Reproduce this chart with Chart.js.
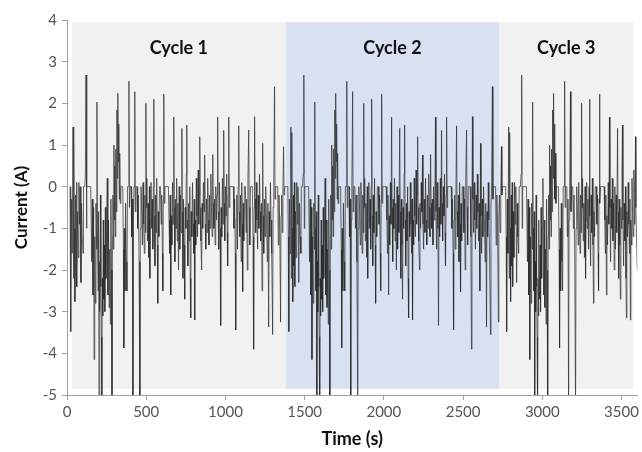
<!DOCTYPE html>
<html>
<head>
<meta charset="utf-8">
<script src="https://cdn.jsdelivr.net/npm/chart.js@4"></script>
<style>
  html, body { margin: 0; padding: 0; background: #fff; }
  #wrap { width: 642px; height: 452px; }
</style>
</head>
<body>
<div id="wrap"><canvas id="myChart"></canvas></div>
<script>
// one drive cycle, time (s) and current (A)
const cycleTime = [
  19, 22, 25, 29, 33, 38, 41, 44, 47, 50, 54, 57, 60, 63, 67, 71, 75, 79, 83, 88, 92, 96, 101, 104, 112, 116, 120, 123, 126,
  150, 156, 160, 164, 168, 171, 175, 179, 183, 187, 189, 192,
  196, 199, 202, 205, 208, 211, 214, 217, 220, 223, 226, 229, 232, 236, 239, 242, 246, 250, 254, 258, 262, 266, 270, 274, 277, 280, 284, 287, 290,
  293, 296, 299, 302, 305, 308, 312, 315, 318, 321, 324, 327, 330, 333, 336, 340, 352,
  356, 359, 362, 366, 370, 374, 378, 382, 388, 391, 394, 398, 405, 408, 412, 416, 419, 423, 428, 431, 435, 442, 446, 450, 455, 460, 463, 467,
  472, 476, 480, 484, 488, 492, 495, 498, 501, 504, 508, 512, 516, 520, 523, 526, 530, 534, 538, 542, 545, 548, 551, 555, 558, 562, 566, 570, 573, 576, 580, 584, 590, 594, 598, 602, 605, 608, 611, 614, 618, 640,
  644, 648, 651, 655, 658, 662, 666, 670, 674, 677, 681, 684, 688, 692, 696, 700, 704, 708, 712, 716, 720, 725, 728, 732, 735, 739, 743, 746, 750, 753, 756, 759, 763, 767, 771, 775, 778, 781,
  784, 788, 792, 796, 800, 803, 806, 809, 813, 816, 820, 824, 828, 832, 835, 838, 841, 845, 850, 853, 857, 861, 865, 869, 872, 876, 880, 884, 888, 892, 896, 900, 904, 908, 912, 916, 920, 923, 927,
  931, 935, 939, 943, 947, 951, 954, 958, 962, 966, 970, 973, 977, 981, 985, 989, 992, 996, 1000, 1004, 1008, 1011, 1014, 1018, 1021, 1024, 1028, 1050, 1054, 1058, 1062, 1065, 1068, 1072, 1076, 1080, 1084, 1087,
  1091, 1095, 1099, 1103, 1106, 1109, 1112, 1116, 1120, 1126, 1130, 1134, 1138, 1142, 1147, 1150, 1154, 1158, 1170, 1174, 1178, 1181, 1184, 1187, 1191, 1195, 1199, 1203, 1207, 1211, 1215, 1219, 1223, 1227, 1231, 1235, 1238, 1242, 1246, 1250, 1254, 1260, 1264, 1268, 1273, 1276, 1280, 1284, 1288, 1292, 1298, 1301, 1305, 1310, 1313, 1317, 1330, 1334, 1338, 1343, 1348, 1351, 1355, 1359, 1363, 1367, 1370, 1374
];
const cycleCurrent = [
  0, -1.2, -3.48, -0.3, -1.6, 1.43, -2.2, 1.3, -1.0, -2.76, -0.2, -1.9, 0.1, -2.4, -0.6, -1.7, 0.1, -0.9, 0, -2.3, -0.4, -1.2, -1.6, 0, 0, 0.3, 2.68, -1.0, 0,
  0, -1.8, -0.3, -2.6, -0.5, -4.15, -1.2, -2.8, -0.4, -1.5, 2.03, -1.0,
  -2.5, -0.6, -5.4, -1.8, -3.0, -0.2, -2.4, -3.6, -5.4, -2.2, -3.1, -0.8, -2.7, -1.4, -3.0, -0.5, -2.2, -1.0, 0.2, -2.6, -0.8, -2.9, -1.5, -3.3, -0.3, -2.0, -5.4, -1.2, -0.2,
  -1.5, 1.0, -0.8, 0.5, -1.2, 0.9, -0.6, 1.84, 0.2, 2.24, 0.6, 1.5, -0.3, 0.8, -0.4, 0, 0,
  -1.5, -3.87, -1.0, -2.5, -0.4, -1.8, -2.5, 0, 0, 2.53, -0.5, 0, 0, -1.2, -0.3, -5.4, -0.8, 0, 2.28, -0.6, 0, 0, -1.0, -0.2, -1.8, -5.4, -1.0, 0,
  -0.6, -1.4, 0.1, -0.9, -1.6, -0.2, -1.1, 2.0, -0.5, 0.2, -1.3, -0.4, -1.7, 0, -2.2, -0.8, 0.1, -1.0, -0.3, -1.5, 0, 2.1, -0.7, -1.9, -0.2, -1.1, 0.2, -1.4, -2.8, -0.6, -1.2, 0, 0, -0.9, -0.2, -1.6, -2.5, -0.3, 2.22, -0.4, 0, 0,
  -0.8, -1.6, -0.2, -2.6, -0.7, -1.4, 0.1, -0.9, 1.67, -0.5, -1.8, -0.3, -1.0, 0.2, -1.3, -0.4, -2.0, 0, -1.5, -0.2, -1.1, 1.4, -0.6, -2.2, -0.3, -1.4, -2.7, -0.5, -1.0, 0.3, 1.48, -0.8, -1.9, -0.4, -1.3, 0, -2.2, -3.15,
  -0.6, -1.2, 0.1, -0.9, -1.6, -0.3, -3.2, -0.8, -1.4, 0.2, -0.7, -1.2, 0.4, -0.9, -0.2, 1.2, -0.5, -1.3, -2.0, -0.4, -1.0, 0.1, -0.6, 0.76, -0.9, -1.5, -0.3, -1.1, 0.2, -0.8, -1.4, -0.2, -1.0, 0.3, -0.5, -1.2, 0.77, -0.4, -1.0,
  -0.3, -1.4, 0, -0.8, -0.2, 1.67, -0.6, -1.5, 0.1, -1.0, -3.33, -0.5, -1.2, 0.2, -0.9, 1.35, -0.4, -1.3, 0, -0.7, 0.3, -1.1, -1.9, -0.2, 1.67, -0.5, 0, 0, -1.0, -0.3, -1.6, -3.44, -0.8, -0.2, -1.5, 0, 1.46, -0.6,
  -1.2, -0.2, -1.8, 0.1, -0.9, -2.52, -0.4, -1.3, 0, 0, -1.1, -0.3, -2.0, 0.2, 1.36, -0.5, -1.4, 0, 0, -1.2, -3.9, -0.5, 1.68, -0.3, -1.1, 0.1, -0.8, -1.5, -0.2, -1.0, 0.3, -0.6, -1.3, -0.4, -2.5, 1.04, -0.7, -1.6, -0.3, -1.2, 0, -0.9, -1.8, -0.4, -3.37, -0.6, -1.2, 0.1, -0.8, -1.6, -3.55, -0.5, 0, 2.4, -0.3, 0, 0, -1.4, -0.2, -1.0, -3.25, -0.7, -0.2, -1.1, 0, 0.96, -0.2, 0
];
// the cycle is run three times back to back
const cycleOffsets = [0, 1375, 2750];

// shaded bands behind each cycle
const cycleNames = ['Cycle 1', 'Cycle 2', 'Cycle 3'];
const bandStart = [32, 1380, 2729];
const bandEnd = [1380, 2729, 3573];
const bandColors = ['#f1f1f1', '#d8e1f2', '#f1f1f1'];

const xTicks = [0, 500, 1000, 1500, 2000, 2500, 3000, 3500];

const points = [];
cycleOffsets.forEach(off => {
  cycleTime.forEach((t, i) => points.push({ x: t + off, y: cycleCurrent[i] }));
});

const bandsPlugin = {
  id: 'bands',
  beforeDatasetsDraw(chart) {
    const { ctx, scales: { x, y } } = chart;
    const top = y.getPixelForValue(3.95);
    const bottom = y.getPixelForValue(-4.85);
    ctx.save();
    cycleNames.forEach((name, i) => {
      const l = x.getPixelForValue(bandStart[i]);
      const r = x.getPixelForValue(bandEnd[i]);
      ctx.fillStyle = bandColors[i];
      ctx.fillRect(l, top, r - l, bottom - top);
    });
    ctx.restore();
  },
  afterDatasetsDraw(chart) {
    const { ctx, scales: { x, y } } = chart;
    ctx.save();
    ctx.font = 'bold 18px Lato';
    ctx.fillStyle = '#111';
    ctx.textAlign = 'center';
    ctx.textBaseline = 'middle';
    cycleNames.forEach((name, i) => {
      const cx = (x.getPixelForValue(bandStart[i]) + x.getPixelForValue(bandEnd[i])) / 2;
      ctx.fillText(name, cx, y.getPixelForValue(3.33));
    });
    ctx.restore();
  }
};

const ctx = document.getElementById('myChart');

new Chart(ctx, {
  type: 'line',
  data: {
    datasets: [{
      data: points,
      borderColor: '#2b2b2b',
      borderWidth: 0.7,
      pointRadius: 0,
      tension: 0,
      fill: false
    }]
  },
  options: {
    responsive: true,
    maintainAspectRatio: false,
    animation: false,
    layout: { padding: { top: 20, right: 3, left: 0, bottom: 0 } },
    plugins: {
      legend: { display: false },
      tooltip: { enabled: false }
    },
    scales: {
      x: {
        type: 'linear',
        min: 0,
        max: 3600,
        afterBuildTicks(scale) {
          scale.ticks = xTicks.map(v => ({ value: v }));
        },
        afterFit(scale) { scale.height = 57; },
        grid: { drawOnChartArea: false, drawTicks: true, tickLength: 5, color: '#a0a0a0' },
        border: { color: '#a0a0a0' },
        ticks: {
          color: '#555',
          font: { family: 'Lato', size: 15 },
          padding: 3,
          maxRotation: 0,
          callback: v => String(v)
        },
        title: {
          display: true,
          text: 'Time (s)',
          color: '#111',
          font: { family: 'Lato', size: 18, weight: 'bold' },
          padding: { top: 0, bottom: 2 }
        }
      },
      y: {
        min: -5,
        max: 4,
        afterFit(scale) { scale.width = 67; },
        grid: { drawOnChartArea: false, drawTicks: true, tickLength: 5, color: '#a0a0a0' },
        border: { color: '#a0a0a0' },
        ticks: {
          stepSize: 1,
          color: '#555',
          font: { family: 'Lato', size: 15 },
          padding: 5
        },
        title: {
          display: true,
          text: 'Current (A)',
          color: '#111',
          font: { family: 'Lato', size: 17, weight: 'bold' },
          padding: { top: 11, bottom: 0 }
        }
      }
    }
  },
  plugins: [bandsPlugin]
});
</script>
</body>
</html>
